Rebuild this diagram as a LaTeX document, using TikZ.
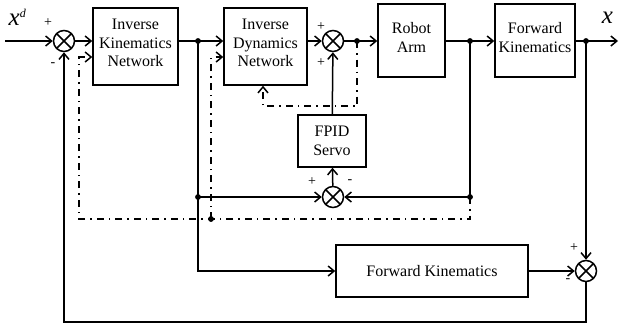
\documentclass[tikz,border=0pt]{standalone}
\usepackage{fontspec}
\setmainfont{Liberation Serif}
\usetikzlibrary{arrows.meta,calc}
\begin{document}
\begin{tikzpicture}[x=1pt,y=-1pt,line width=1.5pt,
  blk/.style={draw, rectangle, align=center, inner sep=0pt, font=\fontsize{16}{18.5}\selectfont},
  sumn/.style={draw, circle, minimum size=21pt, inner sep=0pt,
    path picture={\draw (path picture bounding box.north west)--(path picture bounding box.south east)
                        (path picture bounding box.north east)--(path picture bounding box.south west);}},
  sig/.style={-{Straight Barb[length=6pt,width=10pt]}},
  dd/.style={dash pattern=on 7pt off 5pt on 1.5pt off 5pt},
  jdot/.style={circle, fill, inner sep=0pt, minimum size=5.5pt},
  sgn/.style={font=\fontsize{14}{14}\selectfont, inner sep=0pt}]
\useasboundingbox (0,0) rectangle (619,327);
% blocks
\node[blk, minimum width=85pt, minimum height=77pt] (ikn) at (135.5,46.5) {Inverse\\Kinematics\\Network\\[-12pt]};
\node[blk, minimum width=83pt, minimum height=77pt] (idn) at (265.5,46.5) {Inverse\\Dynamics\\Network\\[-12pt]};
\node[blk, minimum width=67pt, minimum height=73pt] (ra) at (411.5,40.5) {Robot\\Arm\\[-12pt]};
\node[blk, minimum width=80pt, minimum height=73pt] (fk) at (535,40.5) {Forward\\Kinematics\\[-12pt]};
\node[blk, minimum width=68pt, minimum height=52pt] (fpid) at (332,141) {FPID\\Servo};
\node[blk, minimum width=192pt, minimum height=52pt] (fk2) at (432,271) {Forward Kinematics};
% summing junctions
\node[sumn] (s1) at (64,41) {};
\node[sumn] (s2) at (333,41) {};
\node[sumn] (s3) at (333,197) {};
\node[sumn] (s4) at (586,271) {};
% junction dots
\node[jdot] (d1) at (198,41) {};
\node[jdot] (d2) at (357,41) {};
\node[jdot] (d3) at (470,41) {};
\node[jdot] (d4) at (586,41) {};
\node[jdot] (d5) at (470,197) {};
\node[jdot] (d6) at (198,197) {};
\node[jdot] (d7) at (211,219) {};
% helper coordinates
\coordinate (in) at (5,41);
\coordinate (out) at (618,41);
\coordinate (bot) at (0,322);
\coordinate (c1) at (470,219);
\coordinate (c2) at (79,219);
\coordinate (c3) at (79,57);
\coordinate (c4) at (211,57);
\coordinate (c5) at (357,106);
\coordinate (c6) at (263,106);
% solid signals
\draw[sig] (in) -- (s1);
\draw[sig] (s1) -- (ikn.west |- s1);
\draw[sig] (ikn.east |- s1) -- (idn.west |- s1);
\draw[sig] (idn.east |- s2) -- (s2);
\draw[sig] (s2) -- (ra.west |- s2);
\draw[sig] (ra.east |- s2) -- (fk.west |- s2);
\draw[sig] (fk.east |- s2) -- (out);
\draw[sig] (d4.center) -- (s4);
\draw[sig] (d3.center) -- (d5.center) -- (s3);
\draw[sig] (d1.center) -- (d6.center) |- (fk2.west);
\draw[sig] (d6.center) -- (s3);
\draw[sig] (s3) -- (fpid);
\draw[sig] (fpid) -- (s2);
\draw[sig] (fk2) -- (s4);
\draw[sig] (s4) -- (s4 |- bot) -| (s1);
% dash-dot learning signals
\draw[dd,sig] (d5.center) -- (c1) -- (c2) -- (c3) -- (ikn.west |- c3);
\draw[dd,sig] (d7.center) -- (c4) -- (idn.west |- c4);
\draw[dd,sig] (d2.center) -- (c5) -- (c6) -- (c6 |- idn.south);
% redraw dots on top
\foreach \d in {d1,d2,d3,d4,d5,d6,d7} \fill (\d) circle (2.75pt);
% signs
\node[sgn] at (48,23) {+};
\node[sgn] at (53,65) {-};
\node[sgn] at (321,27) {+};
\node[sgn] at (321,63) {+};
\node[sgn] at (312,182) {+};
\node[sgn] at (350,182) {-};
\node[sgn] at (574,248) {+};
\node[sgn] at (568,281) {-};
% signal labels
\node[inner sep=0pt, anchor=base west] (xd) at (8,25) {\fontsize{25}{25}\selectfont\itshape x\raisebox{8pt}{\fontsize{12}{12}\selectfont d}};
\node[inner sep=0pt, anchor=base west] (xo) at (601,23) {\fontsize{25}{25}\selectfont\itshape x};
\end{tikzpicture}
\end{document}
